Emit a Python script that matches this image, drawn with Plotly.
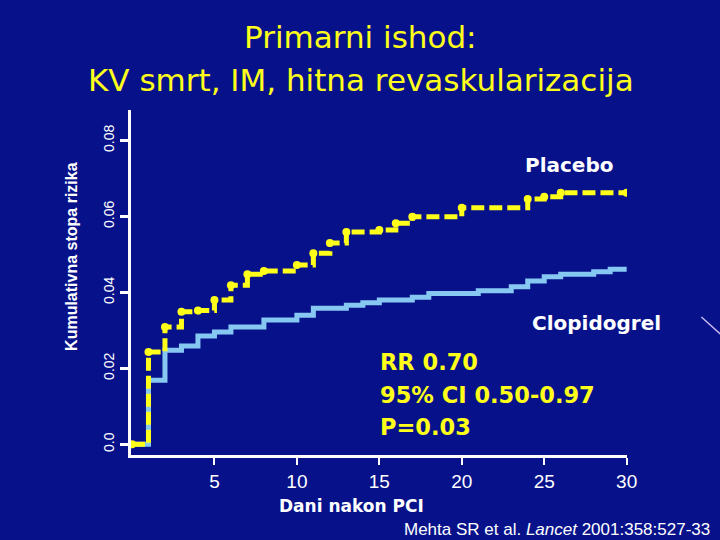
import plotly.graph_objects as go

# Kaplan-Meier style cumulative risk
placebo_days = [0, 1, 2, 3, 4, 5, 6, 7, 8, 10, 11, 12, 13, 15, 16, 17, 20, 24, 25, 26, 30]
placebo_risk = [0, 0.0243, 0.0309, 0.0349, 0.0352, 0.0380, 0.0419, 0.0448, 0.0456, 0.0472,
                0.0503, 0.0530, 0.0559, 0.0564, 0.0582, 0.0599, 0.0623, 0.0646, 0.0652,
                0.0662, 0.0662]

clop_days = [0, 1, 2, 3, 4, 5, 6, 8, 10, 11, 13, 14, 15, 17, 18, 21, 23, 24, 25, 26, 28, 29, 30]
clop_risk = [0, 0.0169, 0.0248, 0.0259, 0.0285, 0.0296, 0.0309, 0.0327, 0.0340, 0.0358,
             0.0366, 0.0373, 0.0380, 0.0387, 0.0397, 0.0404, 0.0415, 0.0430, 0.0441,
             0.0448, 0.0454, 0.0461, 0.0461]

x_ticks = [5, 10, 15, 20, 25, 30]
y_ticks = [0, 0.02, 0.04, 0.06, 0.08]
y_ticktext = ["0.0", "0.02", "0.04", "0.06", "0.08"]

title_lines = ["Primarni ishod:", "KV smrt, IM, hitna revaskularizacija"]
stats_lines = ["RR 0.70", "95% CI 0.50-0.97", "P=0.03"]

BG = "#07128a"
YELLOW = "#ffff1a"
LIGHTBLUE = "#86c8f2"
BOLD = "DejaVu Sans"
ARIAL = "Liberation Sans, Arial, sans-serif"

fig = go.Figure()

fig.add_trace(go.Scatter(
    x=clop_days, y=clop_risk, mode="lines", line_shape="hv",
    line=dict(color=LIGHTBLUE, width=5), showlegend=False,
))
fig.add_trace(go.Scatter(
    x=placebo_days, y=placebo_risk, mode="lines+markers", line_shape="hv",
    line=dict(color=YELLOW, width=5, dash="13px,5px"),
    marker=dict(color=YELLOW, size=8), showlegend=False,
))

# slide title, two lines
for txt, yp in zip(title_lines, [1.2116, 1.087]):
    fig.add_annotation(xref="paper", yref="paper", x=0.4637, y=yp, text=txt,
                       xanchor="center", yanchor="middle", showarrow=False,
                       font=dict(family="DejaVu Sans", size=31, color=YELLOW))

# curve labels and stats
fig.add_annotation(x=26.56, y=0.0735, text="<b>Placebo</b>", showarrow=False,
                   font=dict(family=BOLD, size=20, color="white"))
fig.add_annotation(x=28.14, y=0.0319, text="<b>Clopidogrel</b>", showarrow=False,
                   font=dict(family=BOLD, size=20, color="white"))
for txt, yv in zip(stats_lines, [0.0217, 0.0130, 0.0046]):
    fig.add_annotation(x=14.92, y=yv, text=f"<b>{txt}</b>", showarrow=False,
                       xanchor="left", font=dict(family=BOLD, size=22.5, color=YELLOW))

# axis captions
fig.add_annotation(xref="paper", yref="paper", x=-0.119, y=0.577, textangle=-90,
                   xanchor="center", yanchor="middle",
                   text="<b>Kumulativna stopa rizika</b>", showarrow=False,
                   font=dict(family=ARIAL, size=16, color="white"))
fig.add_annotation(x=8.8, yref="paper", y=-0.148, xanchor="left", yanchor="middle",
                   text="<b>Dani nakon PCI</b>", showarrow=False,
                   font=dict(family=BOLD, size=17, color="white"))
fig.add_annotation(xref="paper", yref="paper", x=1.171, y=-0.217, xanchor="right",
                   yanchor="middle",
                   text="Mehta SR et al. <i>Lancet</i> 2001:358:527-33", showarrow=False,
                   font=dict(family=ARIAL, size=17, color="white"))

# faint streak in the slide background
fig.add_shape(type="line", xref="paper", yref="paper", x0=1.150, y0=0.400, x1=1.19, y1=0.348,
              line=dict(color="#c8b8f0", width=1.5))

fig.update_xaxes(
    range=[-0.06, 30.02], tickvals=x_ticks, ticks="outside", ticklen=7, tickwidth=2,
    tickcolor="white", showline=True, linecolor="white", linewidth=3,
    showgrid=False, zeroline=False,
    tickfont=dict(family=ARIAL, size=19, color="white"),
)
fig.update_yaxes(
    range=[-0.0028, 0.088], tickvals=y_ticks, ticktext=y_ticktext, tickangle=-90,
    ticks="outside", ticklen=8, tickwidth=3, tickcolor="white",
    showline=True, linecolor="white", linewidth=3, showgrid=False, zeroline=False,
    tickfont=dict(family=ARIAL, size=14, color="white"),
)

fig.update_layout(
    width=720, height=540,
    paper_bgcolor=BG, plot_bgcolor=BG,
    margin=dict(l=131, r=93, t=110, b=85),
)

fig.write_html("out.html", config={"displayModeBar": False},
               post_script="document.body.style.margin='0';")
